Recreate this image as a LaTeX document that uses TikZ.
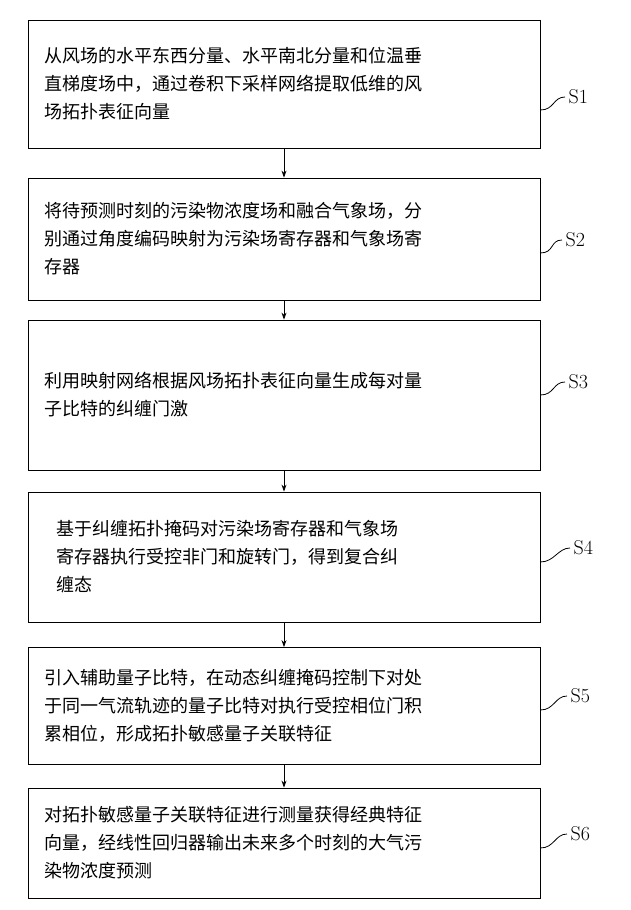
\documentclass[tikz,border=0pt]{standalone}
\usepackage{fontspec}
\newfontfamily\cjk{Noto Sans CJK SC}
\usetikzlibrary{positioning,arrows.meta}
\tikzset{
  stage/.style={draw, line width=0.8pt, minimum width=512pt, text width=480pt,
    align=left, inner sep=0pt, font=\cjk\fontsize{18}{28}\selectfont},
  tag/.style={font=\fontsize{20}{22}\selectfont, anchor=west},
  flow/.style={-{Stealth[length=7pt,width=5pt]}, line width=0.8pt},
  lead/.style={line width=0.8pt}
}
\begin{document}
\begin{tikzpicture}[x=1pt,y=-1pt]
  \useasboundingbox (0,0) rectangle (630,910);

  \node[stage, minimum height=128pt] (b1) at (284,84) {从风场的水平东西分量、水平南北分量和位温垂\\直梯度场中，通过卷积下采样网络提取低维的风\\场拓扑表征向量};
  \node[stage, minimum height=122pt] (b2) at (284,239) {将待预测时刻的污染物浓度场和融合气象场，分\\别通过角度编码映射为污染场寄存器和气象场寄\\存器};
  \node[stage, minimum height=150pt] (b3) at (284,395) {利用映射网络根据风场拓扑表征向量生成每对量\\子比特的纠缠门激};
  \node[stage, minimum height=130pt] (b4) at (284,557) {\hspace*{12pt}基于纠缠拓扑掩码对污染场寄存器和气象场\\\hspace*{12pt}寄存器执行受控非门和旋转门，得到复合纠\\\hspace*{12pt}缠态};
  \node[stage, minimum height=117pt] (b5) at (284,706) {引入辅助量子比特，在动态纠缠掩码控制下对处\\于同一气流轨迹的量子比特对执行受控相位门积\\累相位，形成拓扑敏感量子关联特征};
  \node[stage, minimum height=110pt] (b6) at (284,843) {对拓扑敏感量子关联特征进行测量获得经典特征\\向量，经线性回归器输出未来多个时刻的大气污\\染物浓度预测};

  % step labels
  \node[tag] (s1) at (565,97) {S1};
  \node[tag] (s2) at (562,240) {S2};
  \node[tag] (s3) at (565,382) {S3};
  \node[tag] (s4) at (570,548) {S4};
  \node[tag] (s5) at (567,696) {S5};
  \node[tag] (s6) at (567,834) {S6};

  \draw[flow] (b1) -- (b2);
  \draw[flow] (b2) -- (b3);
  \draw[flow] (b3) -- (b4);
  \draw[flow] (b4) -- (b5);
  \draw[flow] (b5) -- (b6);

  \foreach \b/\s/\y in {b1/s1/110, b2/s2/253, b3/s3/395, b4/s4/562, b5/s5/710, b6/s6/848}
    \draw[lead] (\b.east |- 0,\y) .. controls +(14,0) and +(-12,0) .. (\s.west);
\end{tikzpicture}
\end{document}
